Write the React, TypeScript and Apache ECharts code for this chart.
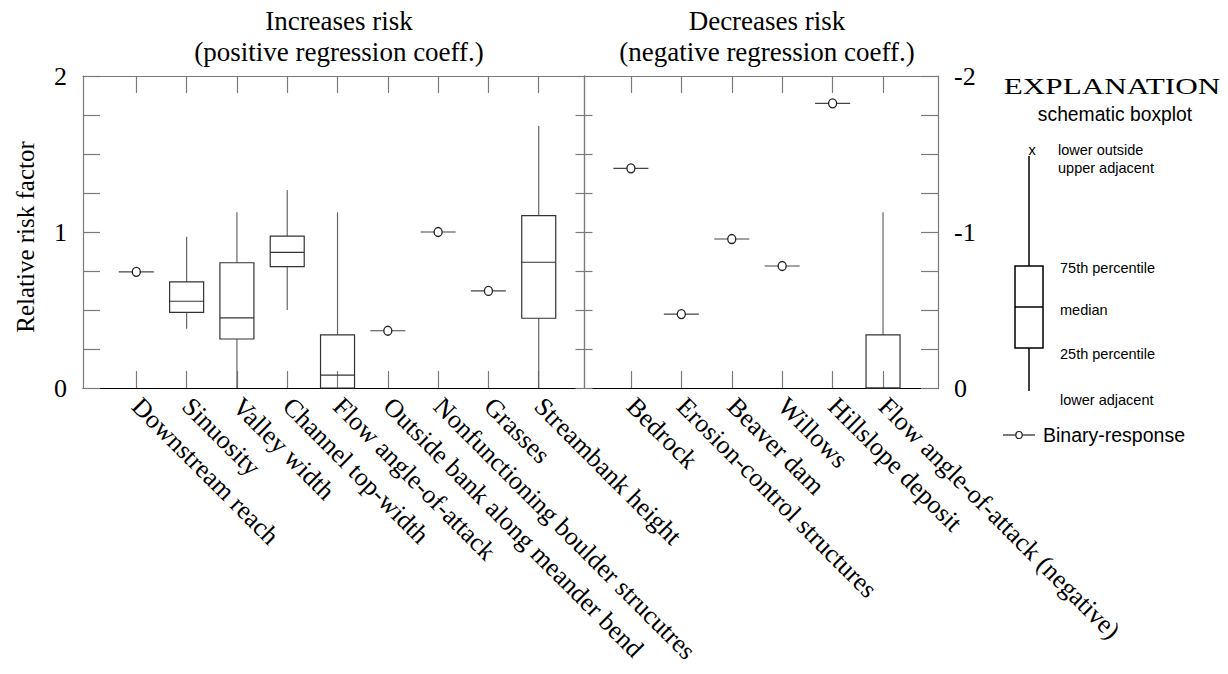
import React, { useEffect, useRef } from "react";
import * as echarts from "echarts";

const leftCategories = [
  "Downstream reach",
  "Sinuosity",
  "Valley width",
  "Channel top-width",
  "Flow angle-of-attack",
  "Outside bank along meander bend",
  "Nonfunctioning boulder strucutres",
  "Grasses",
  "Streambank height",
];
const rightCategories = [
  "Bedrock",
  "Erosion-control structures",
  "Beaver dam",
  "Willows",
  "Hillslope deposit",
  "Flow angle-of-attack (negative)",
];

// [lower adjacent, 25th, median, 75th, upper adjacent]
const leftBoxCats = ["Sinuosity", "Valley width", "Channel top-width", "Flow angle-of-attack", "Streambank height"];
const leftBoxStats = [
  [0.38, 0.485, 0.556, 0.68, 0.97],
  [0, 0.314, 0.449, 0.803, 1.126],
  [0.5, 0.778, 0.87, 0.974, 1.269],
  [0, 0, 0.083, 0.34, 1.126],
  [0, 0.447, 0.806, 1.105, 1.68],
];
const leftBinaryCats = ["Downstream reach", "Outside bank along meander bend", "Nonfunctioning boulder strucutres", "Grasses"];
const leftBinaryValues = [0.745, 0.367, 1.0, 0.622];

const rightBoxCats = ["Flow angle-of-attack (negative)"];
const rightBoxStats = [[0, 0, 0, -0.34, -1.126]];
const rightBinaryCats = ["Bedrock", "Erosion-control structures", "Beaver dam", "Willows", "Hillslope deposit"];
const rightBinaryValues = [-1.408, -0.474, -0.955, -0.782, -1.825];

const leftTickValues = [0, 1, 2];
const rightTickValues = [-2, -1, 0];

const SERIF = "'Liberation Serif', 'Times New Roman', serif";
const SANS = "'Liberation Sans', Arial, sans-serif";
const FRAME = "#7a7a7a";

const renderBox = (params: any, api: any) => {
  const x = api.value(0);
  const lo = api.coord([x, api.value(1)]);
  const q1 = api.coord([x, api.value(2)]);
  const md = api.coord([x, api.value(3)]);
  const q3 = api.coord([x, api.value(4)]);
  const hi = api.coord([x, api.value(5)]);
  const hw = 17;
  const cx = lo[0];
  const top = Math.min(q1[1], q3[1]);
  const bot = Math.max(q1[1], q3[1]);
  return {
    type: "group",
    children: [
      { type: "line", shape: { x1: cx, y1: hi[1], x2: cx, y2: q3[1] }, style: { stroke: "#666", lineWidth: 1.2 } },
      { type: "line", shape: { x1: cx, y1: q1[1], x2: cx, y2: lo[1] }, style: { stroke: "#666", lineWidth: 1.2 } },
      {
        type: "rect",
        shape: { x: cx - hw, y: top, width: hw * 2, height: bot - top },
        style: { fill: "rgba(0,0,0,0)", stroke: "#333", lineWidth: 1.2 },
      },
      { type: "line", shape: { x1: cx - hw, y1: md[1], x2: cx + hw, y2: md[1] }, style: { stroke: "#333", lineWidth: 1.2 } },
    ],
  };
};

const renderBinary = (params: any, api: any) => {
  const p = api.coord([api.value(0), api.value(1)]);
  return {
    type: "group",
    children: [
      { type: "line", shape: { x1: p[0] - 17.5, y1: p[1], x2: p[0] + 17.5, y2: p[1] }, style: { stroke: "#444", lineWidth: 1.2 } },
      { type: "ellipse", shape: { cx: p[0], cy: p[1], rx: 4, ry: 4.5 }, style: { fill: "#fff", stroke: "#222", lineWidth: 1.3 } },
    ],
  };
};

const catX = (cats: string[], list: string[]) => list.map((c) => cats.indexOf(c));

export default function App() {
  const ref = useRef<HTMLDivElement>(null);

  useEffect(() => {
    if (!ref.current) return;
    const chart = echarts.init(ref.current, undefined, { renderer: "svg" });

    const leftIdx = leftCategories.map((_, i) => i);
    const rightIdx = rightCategories.map((_, i) => i);

    const xBottom = (grid: number, cats: string[], idx: number[], min: number, max: number) => ({
      type: "value",
      gridIndex: grid,
      position: "bottom",
      min,
      max,
      axisLine: { show: true, onZero: false, lineStyle: { color: "#000", width: 1.2 } },
      axisTick: { show: true, inside: true, length: 17, customValues: idx, lineStyle: { color: FRAME, width: 1.2 } },
      axisLabel: {
        show: true,
        customValues: idx,
        formatter: (v: number) => cats[Math.round(v)] ?? "",
        rotate: -45,
        margin: 14,
        fontFamily: SERIF,
        fontSize: 26,
        color: "#000",
      },
      splitLine: { show: false },
    });
    const xTop = (grid: number, idx: number[], min: number, max: number) => ({
      type: "value",
      gridIndex: grid,
      position: "top",
      min,
      max,
      axisLine: { show: true, onZero: false, lineStyle: { color: FRAME, width: 1.2 } },
      axisTick: { show: true, inside: true, length: 17, customValues: idx, lineStyle: { color: FRAME, width: 1.2 } },
      axisLabel: { show: false },
      splitLine: { show: false },
    });
    const yAx = (grid: number, position: string, min: number, max: number, tickLen: number, labels: number[] | null, inverse = false) => ({
      type: "value",
      gridIndex: grid,
      position,
      min,
      max,
      interval: 0.25,
      inverse,
      axisLine: { show: true, onZero: false, lineStyle: { color: FRAME, width: 1.2 } },
      axisTick: { show: true, inside: true, length: tickLen, lineStyle: { color: FRAME, width: 1.2 } },
      axisLabel: labels
        ? {
            show: true,
            margin: 16,
            fontFamily: SERIF,
            fontSize: 26,
            color: "#000",
            formatter: (v: number) => (labels.indexOf(v) >= 0 ? String(v) : ""),
          }
        : { show: false },
      splitLine: { show: false },
    });

    const text = (t: string, x: number, y: number, size: number, family: string, align = "left", extra: any = {}) => ({
      type: "text",
      x,
      y,
      ...extra,
      style: { text: t, fontSize: size, fontFamily: family, fill: "#000", align, verticalAlign: "middle" },
    });

    const option: any = {
      animation: false,
      backgroundColor: "#fff",
      grid: [
        { left: 83, top: 76, width: 501, height: 312, containLabel: false, outerBoundsMode: "none" },
        { left: 584, top: 76, width: 354, height: 312, containLabel: false, outerBoundsMode: "none" },
      ],
      xAxis: [
        xBottom(0, leftCategories, leftIdx, -1.06, 8.9),
        xTop(0, leftIdx, -1.06, 8.9),
        xBottom(1, rightCategories, rightIdx, -0.93, 6.09),
        xTop(1, rightIdx, -0.93, 6.09),
      ],
      yAxis: [
        yAx(0, "left", 0, 2, 17, leftTickValues),
        yAx(0, "right", 0, 2, 8.5, null),
        yAx(1, "left", 0, 2, 8.5, null),
        yAx(1, "right", -2, 0, 17, rightTickValues, true),
      ],
      series: [
        {
          type: "custom",
          coordinateSystem: "cartesian2d",
          xAxisIndex: 0,
          yAxisIndex: 0,
          renderItem: renderBox,
          encode: { x: 0, y: [1, 2, 3, 4, 5] },
          data: catX(leftCategories, leftBoxCats).map((x, i) => [x, ...leftBoxStats[i]]),
        },
        {
          type: "custom",
          coordinateSystem: "cartesian2d",
          xAxisIndex: 0,
          yAxisIndex: 0,
          renderItem: renderBinary,
          encode: { x: 0, y: 1 },
          data: catX(leftCategories, leftBinaryCats).map((x, i) => [x, leftBinaryValues[i]]),
        },
        {
          type: "custom",
          coordinateSystem: "cartesian2d",
          xAxisIndex: 2,
          yAxisIndex: 3,
          renderItem: renderBox,
          encode: { x: 0, y: [1, 2, 3, 4, 5] },
          data: catX(rightCategories, rightBoxCats).map((x, i) => [x, ...rightBoxStats[i]]),
        },
        {
          type: "custom",
          coordinateSystem: "cartesian2d",
          xAxisIndex: 2,
          yAxisIndex: 3,
          renderItem: renderBinary,
          encode: { x: 0, y: 1 },
          data: catX(rightCategories, rightBinaryCats).map((x, i) => [x, rightBinaryValues[i]]),
        },
      ],
      graphic: [
        text("Increases risk", 339, 21, 27, SERIF, "center"),
        text("(positive regression coeff.)", 339, 52, 27, SERIF, "center"),
        text("Decreases risk", 767, 21, 27, SERIF, "center"),
        text("(negative regression coeff.)", 767, 52, 27, SERIF, "center"),
        text("Relative risk factor", 25, 237, 25, SERIF, "center", { rotation: Math.PI / 2 }),
        text("EXPLANATION", 1112, 86, 24, SERIF, "center", { scaleX: 1.3, originX: 0, originY: 0 }),
        text("schematic boxplot", 1115, 114, 19.3, SANS, "center"),
        text("x", 1032, 150, 14.5, SANS, "center"),
        text("lower outside", 1058, 150, 14.5, SANS),
        text("upper adjacent", 1058, 168, 14.5, SANS),
        text("75th percentile", 1060, 268, 14.5, SANS),
        text("median", 1060, 310, 14.5, SANS),
        text("25th percentile", 1060, 354, 14.5, SANS),
        text("lower adjacent", 1060, 400, 14.5, SANS),
        text("Binary-response", 1043, 435, 19.5, SANS),
        { type: "line", shape: { x1: 1029, y1: 156, x2: 1029, y2: 266 }, style: { stroke: "#000", lineWidth: 1.5 } },
        { type: "line", shape: { x1: 1029, y1: 348, x2: 1029, y2: 391 }, style: { stroke: "#000", lineWidth: 1.5 } },
        { type: "rect", shape: { x: 1015, y: 266, width: 28, height: 82 }, style: { fill: "rgba(0,0,0,0)", stroke: "#000", lineWidth: 1.5 } },
        { type: "line", shape: { x1: 1015, y1: 307, x2: 1043, y2: 307 }, style: { stroke: "#000", lineWidth: 1.5 } },
        { type: "line", shape: { x1: 1003, y1: 435, x2: 1035, y2: 435 }, style: { stroke: "#222", lineWidth: 1.2 } },
        { type: "ellipse", shape: { cx: 1019, cy: 435, rx: 3.2, ry: 3.5 }, style: { fill: "#fff", stroke: "#222", lineWidth: 1.2 } },
      ],
    };

    chart.setOption(option);
    return () => chart.dispose();
  }, []);

  return <div ref={ref} style={{ position: "fixed", left: 0, top: 0, width: 1228, height: 674, background: "#fff" }} />;
}
